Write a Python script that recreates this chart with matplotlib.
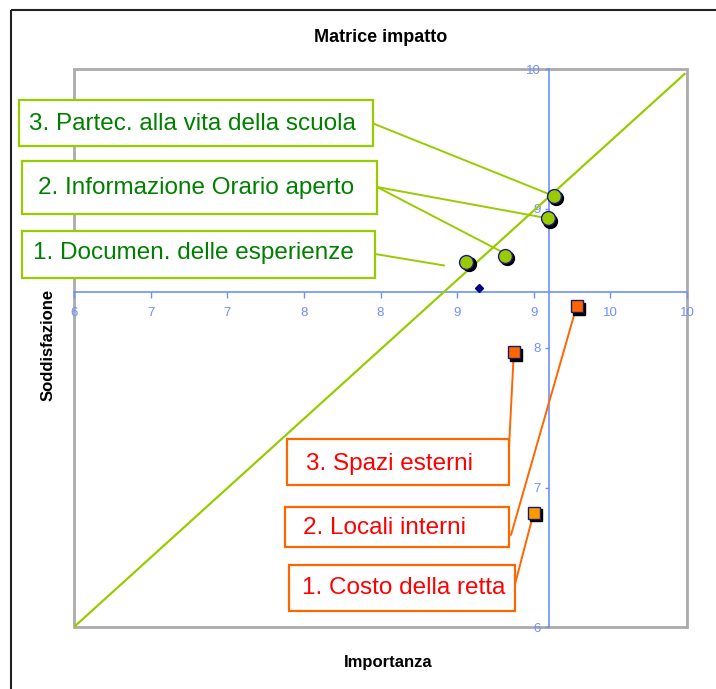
import matplotlib
matplotlib.use("Agg")
import matplotlib.pyplot as plt
import matplotlib.transforms as mtransforms
from matplotlib.patches import Rectangle
import numpy as np

plt.rcParams['font.family'] = ['Liberation Sans', 'DejaVu Sans']

# ---------------- data ----------------
title = "Matrice impatto"
x_label = "Importanza"
y_label = "Soddisfazione"

green_labels = ["1. Documen. delle esperienze", "2. Informazione Orario aperto",
                "3. Partec. alla vita della scuola"]
green_x = [8.56, 8.81, 9.09, 9.13]
green_y = [8.62, 8.66, 8.93, 9.09]

red_labels = ["1. Costo della retta", "2. Locali interni", "3. Spazi esterni"]
red_x = [9.28, 8.87]
red_y = [8.30, 7.97]
orange_x = [9.00]
orange_y = [6.82]

mean_x = [8.64]
mean_y = [8.43]

cross_x = 9.10
cross_y = 8.40

diag_x = [6.0, 9.99]
diag_y = [6.0, 9.97]

x_ticks = [6, 6.5, 7, 7.5, 8, 8.5, 9, 9.5, 10]
x_tick_labels = ["6", "7", "7", "8", "8", "9", "9", "10", "10"]
y_ticks = [6, 7, 8, 9, 10]
y_tick_labels = ["6", "7", "8", "9", "10"]

# ---------------- figure ----------------
W, H = 716, 689
fig = plt.figure(figsize=(W / 100, H / 100), dpi=100)
pxT = mtransforms.Affine2D().scale(1 / W, -1 / H).translate(0, 1) + fig.transFigure

ax = fig.add_axes([74 / W, 1 - 627 / H, (687 - 74) / W, (627 - 69) / H])
ax.set_xlim(6, 10)
ax.set_ylim(6, 10)

BLUE = "#6F8FFF"
GREEN_LINE = "#99CC00"
ORANGE = "#FF6600"

# gray plot-area frame
ax.add_patch(Rectangle((0, 0), 1, 1, transform=ax.transAxes, fill=False,
                       edgecolor="#ABABAB", lw=2, clip_on=False, zorder=0.5))

for s in ["top", "right"]:
    ax.spines[s].set_visible(False)
ax.spines["left"].set_position(("data", cross_x))
ax.spines["bottom"].set_position(("data", cross_y))
for s in ["left", "bottom"]:
    ax.spines[s].set_color(BLUE)
    ax.spines[s].set_linewidth(1.2)
    ax.spines[s].set_zorder(1)

ax.set_xticks(x_ticks)
ax.set_xticklabels(x_tick_labels)
ax.set_yticks(y_ticks)
ax.set_yticklabels(y_tick_labels)
ax.tick_params(axis="x", direction="out", length=4, width=1, color=BLUE,
               labelcolor=BLUE, labelsize=9.5, pad=6.5)
ax.tick_params(axis="y", direction="out", length=3, width=1, color=BLUE,
               labelcolor=BLUE, labelsize=9.5, pad=3)

# diagonal
ax.plot(diag_x, diag_y, color=GREEN_LINE, lw=1.6, zorder=2, solid_capstyle="butt")

# shadows via offset transform
shadow = ax.transData + mtransforms.ScaledTranslation(2.5 / 100, -2.5 / 100, fig.dpi_scale_trans)

ax.plot(green_x, green_y, "o", ms=10, color="black", transform=shadow, zorder=4, clip_on=False)
ax.plot(green_x, green_y, "o", ms=10, mfc=GREEN_LINE, mec="#1A1A8C", mew=1, zorder=5, clip_on=False)

ax.plot(red_x, red_y, "s", ms=9, color="black", transform=shadow, zorder=4, clip_on=False)
ax.plot(red_x, red_y, "s", ms=9, mfc=ORANGE, mec="#1A1A6C", mew=1, zorder=5, clip_on=False)
ax.plot(orange_x, orange_y, "s", ms=9, color="black", transform=shadow, zorder=4, clip_on=False)
ax.plot(orange_x, orange_y, "s", ms=9, mfc="#FF9900", mec="#1A1A6C", mew=1, zorder=5, clip_on=False)

ax.plot(mean_x, mean_y, "D", ms=4.5, color="#000080", zorder=5)

# ---------------- labels boxes ----------------
def box(x0, y0, x1, y1, ec):
    fig.patches.append(Rectangle((x0, y0), x1 - x0, y1 - y0, transform=pxT,
                                 facecolor="white", edgecolor=ec, lw=1.6, zorder=3))

def leader(start, xd, yd, color, off=(0, 0)):
    xyT = ax.transData + mtransforms.ScaledTranslation(off[0] / 100, -off[1] / 100, fig.dpi_scale_trans)
    ax.annotate("", xy=(xd, yd), xycoords=xyT, xytext=start, textcoords=pxT,
                arrowprops=dict(arrowstyle="-", color=color, lw=1.4, shrinkA=0, shrinkB=0),
                annotation_clip=False, zorder=3)

# green boxes (3, 2, 1)
box(19, 100, 373, 146, GREEN_LINE)
box(22, 161, 377, 214, GREEN_LINE)
box(22, 231, 375, 278, GREEN_LINE)
fig.text(29 / W, 1 - 124 / H, green_labels[2], color="#008000", fontsize=17.5, va="center", ha="left", zorder=4)
fig.text(38 / W, 1 - 188 / H, green_labels[1], color="#008000", fontsize=17.5, va="center", ha="left", zorder=4)
fig.text(33 / W, 1 - 253 / H, green_labels[0], color="#008000", fontsize=17.5, va="center", ha="left", zorder=4)

leader((372, 123), green_x[3], green_y[3], GREEN_LINE)
leader((377, 187), green_x[2], green_y[2], GREEN_LINE)
leader((377, 187), green_x[1], green_y[1], GREEN_LINE, off=(7, 1))
leader((375, 254), green_x[0], green_y[0], GREEN_LINE, off=(-22, 4))

# red boxes (3, 2, 1)
box(287, 439, 509, 485, ORANGE)
box(285, 507, 509, 547, ORANGE)
box(289, 565, 515, 611, ORANGE)
fig.text(306 / W, 1 - 464 / H, red_labels[2], color="#FF0000", fontsize=17.5, va="center", ha="left", zorder=4)
fig.text(303 / W, 1 - 528 / H, red_labels[1], color="#FF0000", fontsize=17.5, va="center", ha="left", zorder=4)
fig.text(302 / W, 1 - 588 / H, red_labels[0], color="#FF0000", fontsize=17.5, va="center", ha="left", zorder=4)

leader((508, 467), red_x[1], red_y[1], ORANGE)
leader((511, 535), red_x[0], red_y[0], ORANGE)
leader((514, 588), orange_x[0], orange_y[0], ORANGE)

# ---------------- titles ----------------
fig.text(381 / W, 1 - 42 / H, title, fontsize=13, fontweight="bold", ha="center", va="baseline")
fig.text(388 / W, 1 - 667 / H, x_label, fontsize=12, fontweight="bold", ha="center", va="baseline")
fig.text(48 / W, 1 - 345 / H, y_label, fontsize=12, fontweight="bold", ha="center", va="center", rotation=90)

# outer border
fig.patches.append(Rectangle((11, 10), 760, 720, transform=pxT, fill=False,
                             edgecolor="#222222", lw=1.5, zorder=5))

fig.savefig("out.png", dpi=100)
